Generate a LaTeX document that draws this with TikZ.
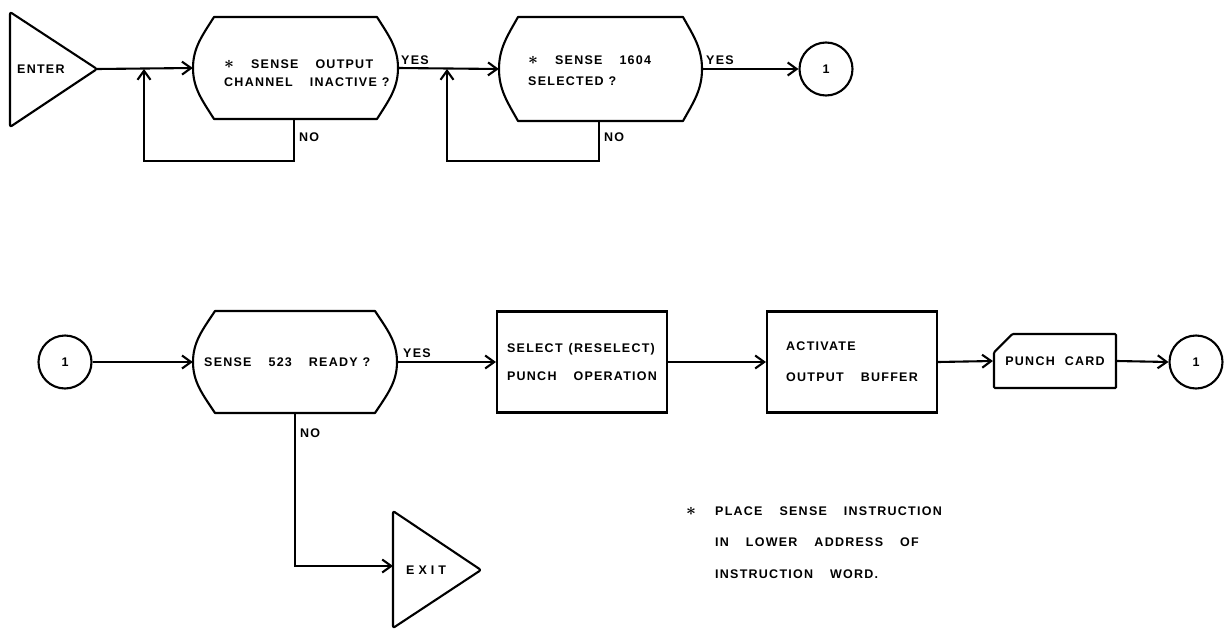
\documentclass[tikz,border=0pt]{standalone}
\usepackage{fontspec}
\setmainfont{Liberation Sans}[LetterSpace=10,WordSpace=3.6]
\usetikzlibrary{arrows.meta,shapes.misc,calc}
\newcommand{\starmark}{{\fontsize{19}{19}\selectfont\boldmath$\ast$}}
\newcommand{\qm}{\unskip\kern5pt?}
% west east top bottom inset
\newcommand{\decshape}[5]{%
  \draw[shapeline] ({#1+#5},#3) -- ({#2-#5},#3)
    .. controls ({#2-0.45*#5},{#3+0.18*(#4-#3)}) and (#2,{#3+0.3*(#4-#3)}) .. (#2,{0.5*(#3+#4)})
    .. controls (#2,{#3+0.7*(#4-#3)}) and ({#2-0.45*#5},{#3+0.82*(#4-#3)}) .. ({#2-#5},#4)
    -- ({#1+#5},#4)
    .. controls ({#1+0.45*#5},{#3+0.82*(#4-#3)}) and (#1,{#3+0.7*(#4-#3)}) .. (#1,{0.5*(#3+#4)})
    .. controls (#1,{#3+0.3*(#4-#3)}) and ({#1+0.45*#5},{#3+0.18*(#4-#3)}) .. ({#1+#5},#3) -- cycle;}
\tikzset{
  txt/.style={font=\fontsize{12.5}{20}\selectfont\bfseries},
  lbl/.style={txt, inner sep=0pt, anchor=west, align=left},
  shapeline/.style={line width=2.1pt, line join=round},
  plain/.style={line width=2.1pt},
  conn/.style={line width=2.1pt, -{Straight Barb[length=9pt,width=13pt,line width=2.1pt]}},
  anchorbox/.style={inner sep=0pt, draw=none},
  procbox/.style={draw, line width=2.1pt, minimum width=170pt, minimum height=101pt,
    inner sep=0pt, align=left, txt},
  conncircle/.style={draw, circle, line width=2.1pt, minimum size=53pt, inner sep=0pt, txt},
  cardbox/.style={draw, line width=2.1pt, chamfered rectangle, chamfered rectangle corners=north west,
    chamfered rectangle xsep=16pt, chamfered rectangle ysep=14pt,
    minimum width=122pt, minimum height=54pt, inner sep=0pt, txt, rounded corners=1pt},
}
\begin{document}
\begin{tikzpicture}[x=1pt,y=-1pt]
\useasboundingbox (0,0) rectangle (1228,629);

% ---------- top row ----------
\draw[shapeline, rounded corners=2pt] (10,12) -- (97,69) -- (10,127) -- cycle;
\coordinate (enterTip) at (97,69);
\node[lbl] (enterT) at (17,69) {ENTER};

\node[anchorbox, minimum width=205pt, minimum height=102pt] (d1) at (295.5,68) {};
\decshape{193}{398}{17}{119}{21}
\node[lbl, font=\fontsize{12.5}{18}\selectfont\bfseries] (d1t) at (224,73) {\starmark\ SENSE OUTPUT\\CHANNEL INACTIVE \qm};

\node[anchorbox, minimum width=203pt, minimum height=104pt] (d2) at (600.5,69) {};
\decshape{499}{702}{17}{121}{19}
\node[lbl, font=\fontsize{12.5}{21}\selectfont\bfseries] (d2t) at (528,70.5) {\starmark\ SENSE 1604\\SELECTED \qm};

\node[conncircle] (c1) at (826,69) {1};

\coordinate (l1a) at (294,161);
\coordinate (l1b) at (144,161);
\coordinate (l1c) at (144,69);
\coordinate (l2a) at (599,161);
\coordinate (l2b) at (447,161);
\coordinate (l2c) at (447,69);

\draw[conn] (enterTip) -- (d1.west);
\draw[conn] (d1.south -| l1a) -- (l1a) -- (l1b) -- (l1c);
\draw[conn] (d1.east) -- (d2.west);
\draw[conn] (d2.south -| l2a) -- (l2a) -- (l2b) -- (l2c);
\draw[conn] (d2.east) -- (c1.west);

\node[lbl] (yes1) at (401,60) {YES};
\node[lbl] (no1) at (299,137) {NO};
\node[lbl] (yes2) at (706,60) {YES};
\node[lbl] (no2) at (604,137) {NO};

% ---------- bottom row ----------
\node[conncircle] (c2) at (65,362) {1};

\node[anchorbox, minimum width=204pt, minimum height=102pt] (d3) at (295,362) {};
\decshape{193}{397}{311}{413}{22}
\node[lbl] (d3t) at (204,362) {SENSE 523 READY \qm};

\node[procbox, font=\fontsize{12.5}{28}\selectfont\bfseries] (b1) at (582,362) {SELECT\kern6pt(RESELECT)\\PUNCH OPERATION};
\node[procbox, font=\fontsize{12.5}{31}\selectfont\bfseries] (b2) at (852,362) {ACTIVATE\\OUTPUT BUFFER};
\node[cardbox] (pc) at (1055,361) {PUNCH\kern10pt CARD};
\node[conncircle] (c3) at (1196,362) {1};

\draw[shapeline, rounded corners=2pt] (393,511) -- (481,570) -- (393,628) -- cycle;
\coordinate (exitIn) at (393,566);
\coordinate (l3a) at (295,566);
\node[lbl] (exitT) at (406,570) {E\kern4pt X\kern4pt I\kern4pt T};

\draw[conn] (c2.east) -- (d3.west);
\draw[conn] (d3.east) -- (b1.west);
\draw[conn] (b1.east) -- (b2.west);
\draw[conn] (b2.east) -- (pc.west);
\draw[conn] (pc.east) -- (c3.west);
\draw[conn] (d3.south -| l3a) -- (l3a) -- (exitIn);

\node[lbl] (yes3) at (403,353) {YES};
\node[lbl] (no3) at (300,433) {NO};

% ---------- footnote ----------
\node[lbl] (star) at (686,511) {\starmark};
\node[lbl, font=\fontsize{12.5}{31.5}\selectfont\bfseries] (note) at (715,542.5) {PLACE SENSE INSTRUCTION\\IN LOWER ADDRESS OF\\INSTRUCTION WORD.};
\end{tikzpicture}
\end{document}
